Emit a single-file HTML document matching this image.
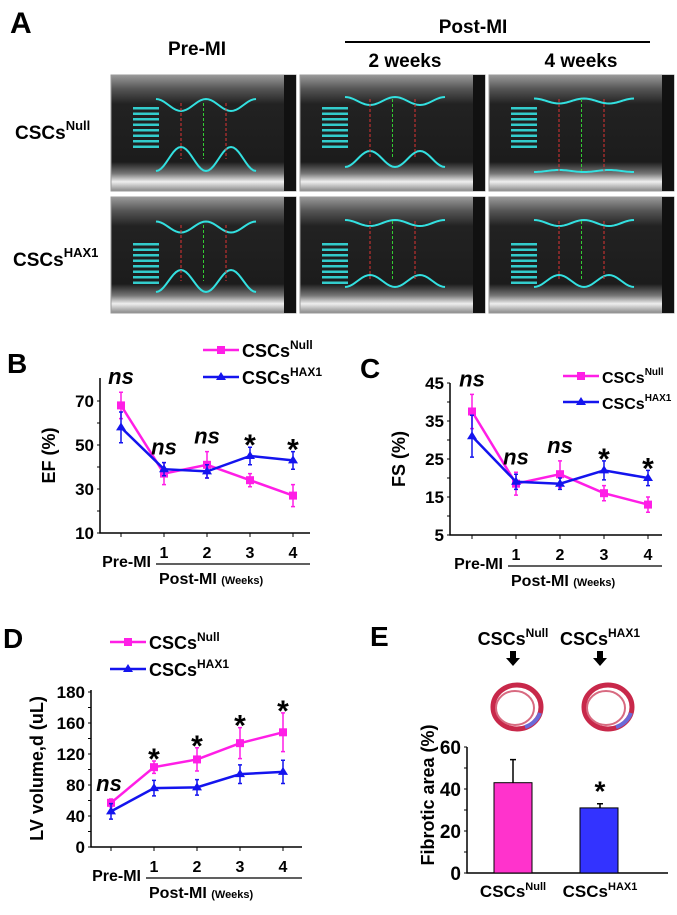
<!DOCTYPE html>
<html><head><meta charset="utf-8">
<style>
html,body{margin:0;padding:0;background:#fff;}
body{width:677px;height:910px;overflow:hidden;font-family:"Liberation Sans",sans-serif;}
svg text{font-family:"Liberation Sans",sans-serif;font-weight:bold;}
</style></head>
<body>
<svg id="fig" width="677" height="910" viewBox="0 0 677 910" xmlns="http://www.w3.org/2000/svg">
<defs>
<linearGradient id="echoTop" x1="0" y1="0" x2="0" y2="1">
<stop offset="0" stop-color="#9a9a9a"/><stop offset="0.12" stop-color="#555"/><stop offset="0.25" stop-color="#222"/><stop offset="0.75" stop-color="#1c1c1c"/><stop offset="0.85" stop-color="#777"/><stop offset="0.92" stop-color="#eee"/><stop offset="1" stop-color="#888"/>
</linearGradient>
</defs>
<g>
<text x="10" y="33" font-size="30">A</text>
<text x="197" y="55" font-size="19" text-anchor="middle">Pre-MI</text>
<text x="473" y="33" font-size="19" text-anchor="middle">Post-MI</text>
<line x1="345" y1="42" x2="650" y2="42" stroke="#000" stroke-width="2"/>
<text x="405" y="67" font-size="19" text-anchor="middle">2 weeks</text>
<text x="581" y="67" font-size="19" text-anchor="middle">4 weeks</text>
<text x="15" y="139" font-size="19">CSCs<tspan font-size="13" dy="-9">Null</tspan></text>
<text x="13" y="266" font-size="19">CSCs<tspan font-size="13" dy="-9">HAX1</tspan></text>
<g id="echoes"></g>
</g>
<g id="panelB"></g>
<g id="panelC"></g>
<g id="panelD"></g>
<g id="panelE"></g>
</svg>
<script>
const NS='http://www.w3.org/2000/svg';
function mk(parent,tag,attrs,txt){const e=document.createElementNS(NS,tag);for(const k in attrs)e.setAttribute(k,attrs[k]);if(txt!==undefined)e.textContent=txt;parent.appendChild(e);return e;}

// ---- Chart data ----
const xCategories=['Pre-MI','1','2','3','4'];
const efNull=[68,37,41,34,27];
const efNullErr=[6,5,6,3,5];
const efHax=[58,39,38,45,43];
const efHaxErr=[7,3,3,4,4];
const efTicks=[10,30,50,70];
const efTickLabels=['10','30','50','70'];
const efSig=['ns','ns','ns','*','*'];

const fsNull=[37.5,18.5,21,16,13];
const fsNullErr=[4.5,3,3.5,2,2];
const fsHax=[31,19,18.5,22,20];
const fsHaxErr=[5.5,2,1.5,2.5,2];
const fsTicks=[5,15,25,35,45];
const fsTickLabels=['5','15','25','35','45'];
const fsSig=['ns','ns','ns','*','*'];

const lvNull=[57,103,113,134,148];
const lvNullErr=[5,8,15,20,25];
const lvHax=[46,76,77,94,97];
const lvHaxErr=[10,10,10,12,15];
const lvTicks=[0,40,80,120,160,200];
const lvTickLabels=['0','40','80','120','160','180'];
const lvSig=['ns','*','*','*','*'];

const barCategories=['Null','HAX1'];
const fibroticValues=[43,31];
const fibroticErr=[11,2];
const fibroticTicks=[0,20,40,60];

// ---- Echo images (illustrative) ----
(function(){
  const g=document.getElementById('echoes');
  const cols=[111,300,489], rows=[75,197], w=185, h=116;
  const amp=[[24,16,10],[22,12,12]];
  const names=['pre-mi','two-weeks','four-weeks'];
  for(let r=0;r<2;r++)for(let c=0;c<3;c++){
    const x=cols[c],y=rows[r];
    const im=mk(g,'g',{});
    
    
    mk(im,'rect',{x:x,y:y,width:w,height:h,fill:'url(#echoTop)',stroke:'#999','stroke-width':1});
    mk(im,'rect',{x:x+w-12,y:y,width:12,height:h,fill:'#111'});
    const a=amp[r][c]*0.5, top=y+24+(c?-4:0), bot=y+h-(c==2&&r==0?20:32);
    let p1='',p2='';
    for(let i=0;i<=40;i++){const t=x+45+i*2.5;const s=Math.cos(i/40*Math.PI*4);p1+=(i?'L':'M')+t+' '+(top-a*0.5*s+6);p2+=(i?'L':'M')+t+' '+(bot+a*s*(c==2&&r==0?0.2:1));}
    mk(im,'path',{d:p1,fill:'none',stroke:'#33e0e0','stroke-width':2});
    mk(im,'path',{d:p2,fill:'none',stroke:'#33e0e0','stroke-width':2});
    [0,0.5,1].forEach((f,k)=>mk(im,'line',{x1:x+70+f*45,y1:top+4,x2:x+70+f*45,y2:bot,stroke:k==1?'#3c3':'#d33','stroke-width':1,'stroke-dasharray':'3,2'}));
    for(let k=0;k<8;k++)mk(im,'rect',{x:x+22,y:y+32+k*5.5+(r?14:0),width:26,height:2.5,fill:'#3cc'});
  }
})();

// ---- Line chart helper ----
function lineChart(gid,cfg){
  const g=document.getElementById(gid);
  const yS=v=>cfg.y0-(v-cfg.vmin)/(cfg.vmax-cfg.vmin)*(cfg.y0-cfg.y1);
  const xS=i=>cfg.px0+i*cfg.dx;
  const lbl=mk(g,'text',{x:cfg.lx,y:cfg.ly,'font-size':28},cfg.letter);
  
  
  const ax=mk(g,'path',{d:`M${cfg.ax} ${cfg.atop}V${cfg.y0}H${cfg.axend}`,fill:'none',stroke:'#000','stroke-width':1.5});
  
  
  cfg.ticks.forEach((t,i)=>{
    const tl=mk(g,'text',{x:cfg.ax-6,y:yS(t)+6,'font-size':17,'text-anchor':'end'},cfg.tickLabels[i]);
    
    
  });
  for(let v=cfg.vmin;v<=cfg.vmax;v+=cfg.minor)mk(g,'line',{x1:cfg.ax-3,x2:cfg.ax,y1:yS(v),y2:yS(v),stroke:'#000'});
  xCategories.forEach((c,i)=>{
    mk(g,'line',{x1:xS(i),x2:xS(i),y1:cfg.y0,y2:cfg.y0+4,stroke:'#000'});
    if(i>0){const t=mk(g,'text',{x:xS(i),y:cfg.y0+25,'font-size':16,'text-anchor':'middle'},c);
      
      }
  });
  const pre=mk(g,'text',{x:xS(1)-13,y:cfg.y0+34,'font-size':16,'text-anchor':'end'},'Pre-MI');
  
  
  mk(g,'line',{x1:xS(1)-8,x2:cfg.axend,y1:cfg.y0+31,y2:cfg.y0+31,stroke:'#000','stroke-width':1.2});
  const post=mk(g,'text',{x:xS(1)-5,y:cfg.y0+51,'font-size':16});
  
  
  post.textContent='Post-MI ';
  mk(post,'tspan',{'font-size':11},'(Weeks)');
  const title=mk(g,'text',{transform:`translate(${cfg.tx},${(cfg.atop+cfg.y0)/2}) rotate(-90)`,'font-size':18,'text-anchor':'middle'},cfg.title);
  
  
  const series=[[cfg.a,cfg.ae,'#ff1ee6','sq','null'],[cfg.b,cfg.be,'#1414ee','tri','hax1']];
  series.forEach(([d,e,col,m,nm])=>{
    const pts=d.map((v,i)=>xS(i)+','+yS(v)).join(' ');
    const pl=mk(g,'polyline',{points:pts,fill:'none',stroke:col,'stroke-width':2.5});
    
    
    d.forEach((v,i)=>{
      const x=xS(i);
      mk(g,'path',{d:`M${x} ${yS(v+e[i])}V${yS(v-e[i])}M${x-2} ${yS(v+e[i])}h4M${x-2} ${yS(v-e[i])}h4`,stroke:col,'stroke-width':1.5,fill:'none'});
      const mkr=m==='sq'?mk(g,'rect',{x:x-4,y:yS(v)-4,width:8,height:8,fill:col}):mk(g,'path',{d:`M${x} ${yS(v)-5}l5 8h-10z`,fill:col});
      
      
    });
  });
  cfg.sig.forEach((s,i)=>{
    const top=Math.max(cfg.a[i]+cfg.ae[i],cfg.b[i]+cfg.be[i]);
    const t=s==='ns'?mk(g,'text',{x:xS(i)+(cfg.nsLeft&&i==0?-2:0),y:yS(top)-(cfg.nsLeft&&i==0?8:8),'font-size':22,'font-style':'italic','font-weight':'normal','text-anchor':'middle'},'ns')
      :mk(g,'text',{x:xS(i),y:yS(top)+8,'font-size':30,'text-anchor':'middle'},'*');
    
    
  });
  [['#ff1ee6','sq','Null',cfg.leg1],['#1414ee','tri','HAX1',cfg.leg2]].forEach(([col,m,sup,ly])=>{
    const lg=mk(g,'g',{});
    
    
    mk(lg,'line',{x1:cfg.legx,x2:cfg.legx+36,y1:ly,y2:ly,stroke:col,'stroke-width':2.5});
    const cx=cfg.legx+18;
    if(m==='sq')mk(lg,'rect',{x:cx-4,y:ly-4,width:8,height:8,fill:col});else mk(lg,'path',{d:`M${cx} ${ly-5}l5 8h-10z`,fill:col});
    const t=mk(lg,'text',{x:cfg.legx+39,y:ly+7,'font-size':cfg.legfs||18},'CSCs');
    mk(t,'tspan',{'font-size':cfg.legsup||12,dy:-8},sup);
  });
}
lineChart('panelB',{letter:'B',lx:7,ly:373,ax:100,atop:378,axend:310,y0:533,y1:401,vmin:10,vmax:70,minor:10,px0:121,dx:43,ticks:efTicks,tickLabels:efTickLabels,tx:55,title:'EF (%)',a:efNull,ae:efNullErr,b:efHax,be:efHaxErr,sig:efSig,legx:203,leg1:350,leg2:377});
lineChart('panelC',{letter:'C',lx:360,ly:378,ax:450,atop:383,axend:662,y0:535,y1:383,vmin:5,vmax:45,minor:5,px0:472,dx:44,ticks:fsTicks,tickLabels:fsTickLabels,tx:405,title:'FS (%)',a:fsNull,ae:fsNullErr,b:fsHax,be:fsHaxErr,sig:fsSig,legx:563,leg1:376,leg2:402,legfs:16,legsup:10});
lineChart('panelD',{letter:'D',lx:3,ly:648,ax:91,atop:690,axend:302,y0:847,y1:692,vmin:0,vmax:200,minor:20,px0:111,dx:43,ticks:lvTicks,tickLabels:lvTickLabels,tx:43,title:'LV volume,d (uL)',a:lvNull,ae:lvNullErr,b:lvHax,be:lvHaxErr,sig:lvSig,legx:110,leg1:642,leg2:669,nsLeft:true});

// ---- Panel E bar chart ----
(function(){
  const g=document.getElementById('panelE');
  const y0=873,y1=747,vmax=60,ax=467;
  const yS=v=>y0-v/vmax*(y0-y1);
  const bx=[494,580],bw=38,cols=['#ff33cc','#3333ff'];
  const l=mk(g,'text',{x:370,y:646,'font-size':28},'E');
  
  
  mk(g,'path',{d:`M${ax} ${y1}V${y0}H668`,fill:'none',stroke:'#000','stroke-width':1.5});
  fibroticTicks.forEach(t=>{mk(g,'text',{x:ax-6,y:yS(t)+7,'font-size':19,'text-anchor':'end'},String(t));});
  for(let v=0;v<=60;v+=10)mk(g,'line',{x1:ax-3,x2:ax,y1:yS(v),y2:yS(v),stroke:'#000'});
  const tt=mk(g,'text',{transform:`translate(${ax-33},${(y0+y1)/2-15}) rotate(-90)`,'font-size':18,'text-anchor':'middle'},'Fibrotic area (%)');
  
  
  fibroticValues.forEach((v,i)=>{
    const b=mk(g,'rect',{x:bx[i],y:yS(v),width:bw,height:y0-yS(v),fill:cols[i],stroke:'#000','stroke-width':1});
    
    
    const cx=bx[i]+bw/2+(i?1:0);
    mk(g,'path',{d:`M${cx} ${yS(v)}V${yS(v+fibroticErr[i])}M${cx-3} ${yS(v+fibroticErr[i])}h6`,stroke:'#000','stroke-width':1.5,fill:'none'});
    const t=mk(g,'text',{x:cx,y:897,'font-size':17,'text-anchor':'middle'},'CSCs');
    mk(t,'tspan',{'font-size':11,dy:-7},barCategories[i]);
    
    
    const h=mk(g,'text',{x:cx,y:645,'font-size':18,'text-anchor':'middle'},'CSCs');
    mk(h,'tspan',{'font-size':12,dy:-8},barCategories[i]);
    
    
    mk(g,'path',{d:`M${cx-3} 651h6v7h4l-7 8l-7-8h4z`,fill:'#000'});
    const hx=i?608:517,hy=707;
    const hs=mk(g,'g',{});
    
    
    mk(hs,'ellipse',{cx:hx,cy:hy,rx:24,ry:22,fill:'none',stroke:'#c8284a','stroke-width':5});
    mk(hs,'ellipse',{cx:hx-2,cy:hy+1,rx:19,ry:17,fill:'none',stroke:'#d86a80','stroke-width':2});
    mk(hs,'path',{d:`M${hx+8} ${hy+20}A24 22 0 0 0 ${hx+23} ${hy+6}`,fill:'none',stroke:'#6a6ad8','stroke-width':4});
    if(i===1){const s=mk(g,'text',{x:cx,y:yS(v+fibroticErr[i])-3,'font-size':28,'text-anchor':'middle'},'*');
      
      }
  });
})();
</script>
</body></html>
